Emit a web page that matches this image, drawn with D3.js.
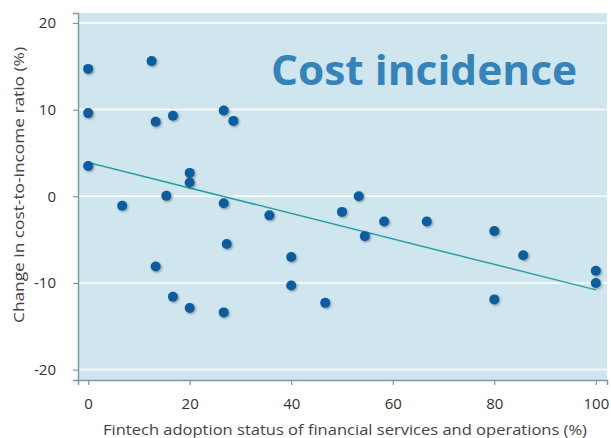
<!DOCTYPE html>
<html>
<head>
<meta charset="utf-8">
<script src="https://cdn.jsdelivr.net/npm/d3@7"></script>
<style>
  html, body { margin: 0; padding: 0; background: #fff; }
  svg { display: block; }
</style>
</head>
<body>
<svg id="chart" width="611" height="438"></svg>
<script>
// Data
const xValues = [0, 0, 0, 12.5, 13.3, 16.7, 20, 20, 15.4, 6.7, 26.7, 28.6, 26.7, 35.7,
                 27.3, 40, 40, 13.3, 16.7, 20, 26.7,
                 50, 53.3, 54.5, 58.3, 66.7, 80, 85.7, 100, 100, 80, 46.7];
const yValues = [14.7, 9.6, 3.5, 15.6, 8.6, 9.3, 2.7, 1.6, 0.05, -1.1, 9.9, 8.7, -0.8, -2.2,
                 -5.5, -7.0, -10.3, -8.1, -11.6, -12.9, -13.4,
                 -1.8, 0.0, -4.6, -2.9, -2.9, -4.0, -6.8, -8.6, -10.0, -11.9, -12.3];
const trendX = [0, 100];
const trendY = [3.9, -10.8];
const xTicks = [0, 20, 40, 60, 80, 100];
const yTicks = [-20, -10, 0, 10, 20];
const title = "Cost incidence";
const xLabel = "Fintech adoption status of financial services and operations (%)";
const yLabel = "Change in cost-to-income ratio (%)";

const svg = d3.select("#chart");
const plot = { left: 78, right: 607, top: 13, bottom: 380 };

const x = d3.scaleLinear().domain([-2, 102.2]).range([plot.left, plot.right]);
const y = d3.scaleLinear().domain([-21.2, 21.15]).range([plot.bottom, plot.top]);

const defs = svg.append("defs");
const f = defs.append("filter").attr("id", "shadow").attr("x", "-50%").attr("y", "-50%").attr("width", "200%").attr("height", "200%");
f.append("feDropShadow").attr("dx", 1.2).attr("dy", 1.2).attr("stdDeviation", 0.9)
  .attr("flood-color", "#000").attr("flood-opacity", 0.35);

// background
svg.append("rect")
  .attr("x", plot.left).attr("y", plot.top)
  .attr("width", plot.right - plot.left).attr("height", plot.bottom - plot.top)
  .attr("fill", "#d0e6ee");

// grid lines
svg.append("g").selectAll("line").data(yTicks).join("line")
  .attr("x1", plot.left).attr("x2", plot.right)
  .attr("y1", d => y(d)).attr("y2", d => y(d))
  .attr("stroke", "#ffffff").attr("stroke-width", 1.5);

// axes
const axisColor = "#7d9aa3";
const yAxis = svg.append("g").attr("transform", `translate(${plot.left},0)`)
  .call(d3.axisLeft(y).tickValues(yTicks).tickSize(5).tickPadding(17).tickFormat(d3.format("d")));
const xAxis = svg.append("g").attr("transform", `translate(0,${plot.bottom})`)
  .call(d3.axisBottom(x).tickValues(xTicks).tickSize(5).tickPadding(13).tickFormat(d3.format("d")));
[xAxis, yAxis].forEach(a => {
  a.select(".domain").attr("stroke", axisColor).attr("stroke-width", 1.5);
  a.selectAll(".tick line").attr("stroke", axisColor).attr("stroke-width", 1.2);
  a.selectAll(".tick text").attr("fill", "#333").attr("font-size", 15)
    .attr("font-family", "'Open Sans', 'DejaVu Sans', sans-serif");
});
yAxis.selectAll(".tick text").text(d => d < 0 ? "-" + Math.abs(d) : d);

// trend line
svg.append("path")
  .datum(trendX.map((d, i) => [d, trendY[i]]))
  .attr("d", d3.line().x(d => x(d[0])).y(d => y(d[1])))
  .attr("fill", "none").attr("stroke", "#2a9fa5").attr("stroke-width", 1.5);

// points
svg.append("g").selectAll("circle").data(xValues.map((d, i) => [d, yValues[i]])).join("circle")
  .attr("cx", d => x(d[0])).attr("cy", d => y(d[1])).attr("r", 5)
  .attr("fill", "#0b5b9e").attr("filter", "url(#shadow)");

// title
svg.append("text")
  .attr("x", 271).attr("y", 85)
  .attr("font-family", "'Open Sans', Lato, sans-serif").attr("font-weight", "bold")
  .attr("font-size", 42).attr("fill", "#3583b8")
  .attr("textLength", 306).attr("lengthAdjust", "spacingAndGlyphs")
  .text(title);

// axis labels
svg.append("text")
  .attr("x", 103).attr("y", 435)
  .attr("font-family", "'Open Sans', sans-serif").attr("font-size", 14.5).attr("fill", "#444")
  .attr("textLength", 484).attr("lengthAdjust", "spacingAndGlyphs")
  .text(xLabel);
svg.append("text")
  .attr("transform", "translate(24,323) rotate(-90)")
  .attr("font-family", "'Open Sans', sans-serif").attr("font-size", 14.5).attr("fill", "#444")
  .attr("textLength", 276).attr("lengthAdjust", "spacingAndGlyphs")
  .text(yLabel);
</script>
</body>
</html>
